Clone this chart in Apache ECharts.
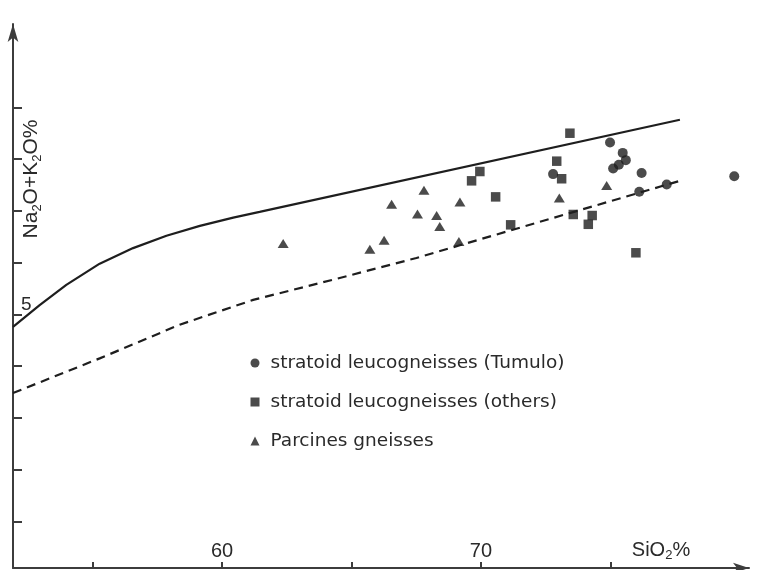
<!DOCTYPE html>
<html>
<head>
<meta charset="utf-8">
<script src="https://cdn.jsdelivr.net/npm/echarts@6/dist/echarts.min.js"></script>
<style>
  html, body { margin: 0; padding: 0; background: #fff; }
  #chart { width: 760px; height: 570px; }
</style>
</head>
<body>
<div id="chart"></div>
<script>
// [SiO2 %, Na2O+K2O %]
const tumulo = [[72.79, 7.71], [74.99, 8.32], [75.48, 8.12], [75.60, 7.98], [75.33, 7.89],
  [75.11, 7.82], [76.21, 7.73], [76.12, 7.37], [77.18, 7.51], [79.79, 7.67]];
const others = [[73.44, 8.50], [72.93, 7.96], [69.96, 7.76], [69.64, 7.58], [70.57, 7.27],
  [73.12, 7.62], [73.57, 6.93], [74.30, 6.91], [74.15, 6.74], [71.15, 6.73], [75.99, 6.19]];
const parcines = [[62.36, 6.37], [65.71, 6.26], [66.26, 6.43], [66.55, 7.13], [67.55, 6.94],
  [67.80, 7.40], [68.29, 6.91], [68.41, 6.70], [69.15, 6.41], [69.19, 7.17], [73.03, 7.25], [74.86, 7.49]];

// boundary lines
const upperLine = [[51.92, 4.76], [52.95, 5.18], [53.98, 5.57], [55.27, 5.98], [56.56, 6.28],
  [57.85, 6.52], [59.14, 6.71], [60.43, 6.87], [61.45, 6.98], [77.69, 8.76]];
const lowerLine = [[51.92, 3.48], [55.27, 4.15], [58.36, 4.80], [61.20, 5.28], [64.29, 5.67],
  [67.51, 6.09], [77.69, 7.58]];

const xTicks = [55, 60, 65, 70, 75];
const xLabels = [60, 70];
const yTicks = [1, 2, 3, 4, 5, 6, 7, 8, 9];
const yLabels = [5];

const names = ['stratoid leucogneisses (Tumulo)', 'stratoid leucogneisses (others)', 'Parcines gneisses'];

const ink = '#1e1e1e';
const txt = '#2a2a2a';
const axisCol = '#3c3c3c';
const labelFont = "'Liberation Sans', Arial, sans-serif";

const chart = echarts.init(document.getElementById('chart'), null, { renderer: 'canvas' });

chart.setOption({
  backgroundColor: '#fff',
  animation: false,
  grid: { left: 13, right: 11, top: 24, bottom: 2, containLabel: false },
  xAxis: {
    type: 'value', min: 51.92, max: 80.36,
    axisLine: { onZero: false, symbol: ['none', 'arrow'], symbolSize: [8, 16],
      lineStyle: { color: axisCol, width: 2 } },
    axisTick: { inside: true, length: 6, customValues: xTicks, lineStyle: { color: axisCol, width: 2 } },
    axisLabel: { inside: true, margin: 7, customValues: xLabels, color: txt,
      fontSize: 20, fontFamily: labelFont },
    splitLine: { show: false }
  },
  yAxis: {
    type: 'value', min: 0.1, max: 10.61,
    axisLine: { symbol: ['none', 'arrow'], symbolSize: [8, 18],
      lineStyle: { color: axisCol, width: 2 } },
    axisTick: { inside: true, length: 9, customValues: yTicks, lineStyle: { color: axisCol, width: 2 } },
    axisLabel: { inside: true, margin: 8, customValues: yLabels, color: txt,
      fontSize: 19, fontFamily: labelFont, verticalAlign: 'bottom' },
    splitLine: { show: false }
  },
  legend: {
    data: names,
    orient: 'vertical', left: 245.5, top: 348,
    itemWidth: 9, itemHeight: 9, itemGap: 19,
    textStyle: { color: txt, fontSize: 18.5, lineHeight: 20,
      fontFamily: "'DejaVu Sans', sans-serif", padding: [0, 0, 0, 6] }
  },
  graphic: [
    {
      type: 'text', x: 31, y: 179, rotation: Math.PI / 2,
      style: {
        text: '{a|Na}{s|2}{a|O+K}{s|2}{a|O%}',
        align: 'center', verticalAlign: 'middle', fill: txt,
        rich: {
          a: { fontSize: 21, lineHeight: 26, fontFamily: labelFont, fill: txt },
          s: { fontSize: 13, lineHeight: 13, verticalAlign: 'bottom', fontFamily: labelFont, fill: txt }
        }
      }
    },
    {
      type: 'text', x: 661, y: 550,
      style: {
        text: '{a|SiO}{s|2}{a|%}',
        align: 'center', verticalAlign: 'middle', fill: txt,
        rich: {
          a: { fontSize: 20, lineHeight: 24, fontFamily: labelFont, fill: txt },
          s: { fontSize: 13, lineHeight: 12, verticalAlign: 'bottom', fontFamily: labelFont, fill: txt }
        }
      }
    }
  ],
  series: [
    { type: 'line', data: upperLine, showSymbol: false, silent: true, z: 1,
      lineStyle: { color: ink, width: 2.2 } },
    { type: 'line', data: lowerLine, showSymbol: false, silent: true, z: 1,
      lineStyle: { color: ink, width: 2.2, type: [9, 6] } },
    { name: names[0], type: 'scatter', data: tumulo, symbol: 'circle', symbolSize: 10,
      itemStyle: { color: ink }, z: 3 },
    { name: names[1], type: 'scatter', data: others, symbol: 'rect', symbolSize: 9.5,
      itemStyle: { color: ink }, z: 3 },
    { name: names[2], type: 'scatter', data: parcines, symbol: 'triangle', symbolSize: [11, 9],
      itemStyle: { color: ink }, z: 3 }
  ]
});
</script>
</body>
</html>
